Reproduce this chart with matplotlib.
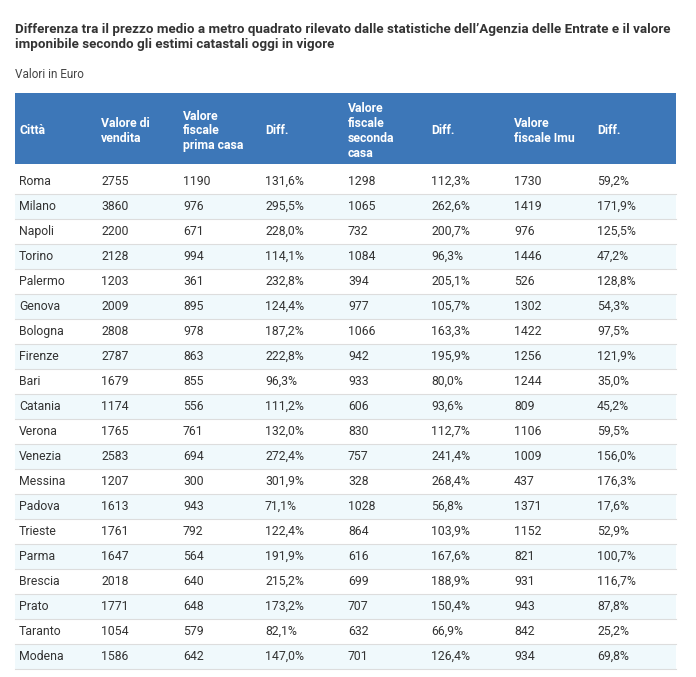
import matplotlib
matplotlib.use("Agg")
import matplotlib.pyplot as plt
from matplotlib.patches import Rectangle

cities = ["Roma", "Milano", "Napoli", "Torino", "Palermo", "Genova", "Bologna", "Firenze",
          "Bari", "Catania", "Verona", "Venezia", "Messina", "Padova", "Trieste", "Parma",
          "Brescia", "Prato", "Taranto", "Modena"]
vendita = [2755, 3860, 2200, 2128, 1203, 2009, 2808, 2787, 1679, 1174, 1765, 2583, 1207,
           1613, 1761, 1647, 2018, 1771, 1054, 1586]
prima = [1190, 976, 671, 994, 361, 895, 978, 863, 855, 556, 761, 694, 300, 943, 792, 564,
         640, 648, 579, 642]
diff_prima = ["131,6%", "295,5%", "228,0%", "114,1%", "232,8%", "124,4%", "187,2%", "222,8%",
              "96,3%", "111,2%", "132,0%", "272,4%", "301,9%", "71,1%", "122,4%", "191,9%",
              "215,2%", "173,2%", "82,1%", "147,0%"]
seconda = [1298, 1065, 732, 1084, 394, 977, 1066, 942, 933, 606, 830, 757, 328, 1028, 864,
           616, 699, 707, 632, 701]
diff_seconda = ["112,3%", "262,6%", "200,7%", "96,3%", "205,1%", "105,7%", "163,3%", "195,9%",
                "80,0%", "93,6%", "112,7%", "241,4%", "268,4%", "56,8%", "103,9%", "167,6%",
                "188,9%", "150,4%", "66,9%", "126,4%"]
imu = [1730, 1419, 976, 1446, 526, 1302, 1422, 1256, 1244, 809, 1106, 1009, 437, 1371, 1152,
       821, 931, 943, 842, 934]
diff_imu = ["59,2%", "171,9%", "125,5%", "47,2%", "128,8%", "54,3%", "97,5%", "121,9%",
            "35,0%", "45,2%", "59,5%", "156,0%", "176,3%", "17,6%", "52,9%", "100,7%",
            "116,7%", "87,8%", "25,2%", "69,8%"]
headers = ["Città", "Valore di\nvendita", "Valore\nfiscale\nprima casa", "Diff.",
           "Valore\nfiscale\nseconda\ncasa", "Diff.", "Valore\nfiscale Imu", "Diff."]

W, H = 696, 677
fig = plt.figure(figsize=(W / 100, H / 100), dpi=100)
ax = fig.add_axes([0, 0, 1, 1])
ax.set_xlim(0, W)
ax.set_ylim(H, 0)
ax.axis("off")

fam = ["Roboto", "DejaVu Sans"]
ax.text(15, 37, "Differenza tra il prezzo medio a metro quadrato rilevato dalle statistiche dell’Agenzia delle Entrate e il valore\n"
        "imponibile secondo gli estimi catastali oggi in vigore",
        fontsize=9.6, fontweight="bold", color="#333333", va="center", family=fam, linespacing=1.25)
ax.text(15, 74, "Valori in Euro", fontsize=8.5, color="#444444", va="center", family=fam)

col_x = [19, 101, 183, 265, 348, 431, 514, 597]
left, right = 15, 676
ax.add_patch(Rectangle((left, 93), right - left, 71, color="#3d77b8", lw=0))
for x, h in zip(col_x, headers):
    ax.text(x, 131, h, fontsize=8.8, fontweight="bold", color="white", va="center",
            family=fam, linespacing=1.2)

top, rh = 169, 25
for i, c in enumerate(cities):
    y0 = top + i * rh
    if i % 2 == 1:
        ax.add_patch(Rectangle((left, y0), right - left, rh, color="#f0f9fc", lw=0))
    ax.plot([left, right], [y0 + rh, y0 + rh], color="#dddddd", lw=0.8)
    vals = [c, vendita[i], prima[i], diff_prima[i], seconda[i], diff_seconda[i], imu[i], diff_imu[i]]
    for x, v in zip(col_x, vals):
        ax.text(x, y0 + rh / 2, str(v), fontsize=8.8, color="#333333", va="center", family=fam)

fig.savefig("out.png", dpi=100)
